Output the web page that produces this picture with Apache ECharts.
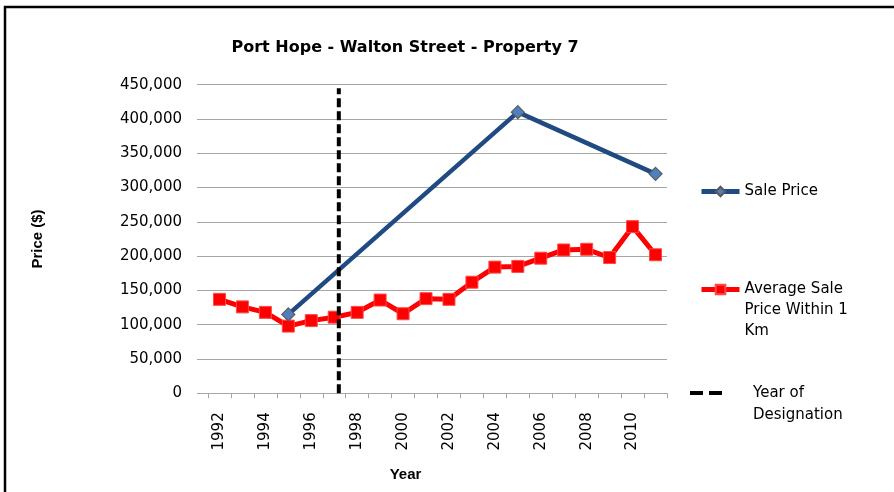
<!DOCTYPE html>
<html>
<head>
<meta charset="utf-8">
<script src="https://cdn.jsdelivr.net/npm/echarts@6/dist/echarts.min.js"></script>
<style>
  html, body { margin: 0; padding: 0; background: #fff; }
  #chart { width: 894px; height: 492px; }
</style>
</head>
<body>
<div id="chart"></div>
<script>
// ---- Data ----
const years = ['1992','1993','1994','1995','1996','1997','1998','1999','2000','2001',
               '2002','2003','2004','2005','2006','2007','2008','2009','2010','2011'];
const salePrice = [null, null, null, 115000, null, null, null, null, null, null,
                   null, null, null, 410000, null, null, null, null, null, 320000];
const avgSalePrice = [137000, 126000, 118000, 98000, 106000, 111000, 118000, 136000, 116000, 138000,
                      137000, 162000, 184000, 185000, 197000, 209000, 210000, 198000, 243000, 202000];
const designationYear = 1997.2;
const designationTop = 445000;
const yTicks = { min: 0, max: 450000, interval: 50000 };

const chart = echarts.init(document.getElementById('chart'), null, { renderer: 'canvas' });

const baseFont = 'DejaVu Sans';
const labelFont = 'Liberation Sans';

const option = {
  animation: false,
  backgroundColor: '#ffffff',
  title: {
    text: 'Port Hope - Walton Street - Property 7',
    left: 400,
    top: 35,
    textAlign: 'center',
    textStyle: { fontFamily: baseFont, fontWeight: 'bold', fontSize: 16, color: '#000' }
  },
  grid: { left: 208, right: 227, top: 84.7, bottom: 98.7, containLabel: false },
  legend: [
    {
      data: ['Sale Price'],
      left: 699, top: 184, padding: 0,
      itemWidth: 38, itemHeight: 12,
      lineStyle: { width: 5 },
      textStyle: { fontFamily: baseFont, fontSize: 15, color: '#000' }
    },
    {
      data: ['Average Sale Price Within 1 Km'],
      left: 699, top: 237, padding: 0,
      itemWidth: 38, itemHeight: 12,
      lineStyle: { width: 5 },
      formatter: () => '\n\nAverage Sale\nPrice Within 1\nKm',
      textStyle: { fontFamily: baseFont, fontSize: 15, color: '#000', lineHeight: 21 }
    },
    {
      data: [{ name: 'Year of Designation', icon: 'path://M0,0h13v4h-13z M19,0h13v4h-13z' }],
      left: 690, top: 360, padding: 0,
      itemWidth: 32, itemHeight: 4,
      formatter: () => '\nYear of\nDesignation',
      textStyle: { fontFamily: baseFont, fontSize: 15, color: '#000', lineHeight: 22, padding: [0, 0, 0, 26] }
    }
  ],
  xAxis: [
    {
      type: 'category',
      data: years,
      boundaryGap: true,
      name: 'Year',
      nameLocation: 'middle',
      nameGap: 74,
      nameTextStyle: { fontFamily: labelFont, fontWeight: 'bold', fontSize: 15, color: '#000', padding: [0, 64, 0, 0] },
      axisLine: { lineStyle: { color: '#a6a6a6', width: 1 } },
      axisTick: { show: true, interval: 0, length: 5, alignWithLabel: false, lineStyle: { color: '#a6a6a6' } },
      axisLabel: { interval: 1, rotate: 90, margin: 19, fontFamily: baseFont, fontSize: 15, color: '#000' },
      splitLine: { show: false }
    },
    {
      type: 'value',
      min: 1991.5, max: 2011.5,
      show: false,
      splitLine: { show: false }
    }
  ],
  yAxis: {
    type: 'value',
    min: yTicks.min, max: yTicks.max, interval: yTicks.interval,
    name: 'Price ($)',
    nameLocation: 'middle',
    nameRotate: 90,
    nameGap: 163,
    nameTextStyle: { fontFamily: labelFont, fontWeight: 'bold', fontSize: 15, color: '#000' },
    axisLine: { show: false },
    axisTick: { show: true, length: 11, lineStyle: { color: '#a6a6a6' } },
    axisLabel: {
      margin: 26,
      fontFamily: baseFont, fontSize: 15, color: '#000',
      formatter: v => v.toLocaleString('en-US')
    },
    splitLine: { show: true, lineStyle: { color: '#a6a6a6', width: 1 } }
  },
  series: [
    {
      name: 'Sale Price',
      type: 'line',
      xAxisIndex: 0,
      data: salePrice,
      connectNulls: true,
      symbol: 'diamond',
      symbolSize: 13,
      lineStyle: { color: '#1f4a82', width: 4.5 },
      itemStyle: { color: '#4f7fbf', borderColor: '#5a5a5a', borderWidth: 1.2 },
      z: 4
    },
    {
      name: 'Average Sale Price Within 1 Km',
      type: 'line',
      xAxisIndex: 0,
      data: avgSalePrice,
      symbol: 'rect',
      symbolSize: 12,
      lineStyle: { color: '#ff0000', width: 5 },
      itemStyle: { color: '#ff0000', borderColor: '#ff4a4a', borderWidth: 1 },
      z: 3
    },
    {
      name: 'Year of Designation',
      type: 'line',
      xAxisIndex: 1,
      data: [[designationYear, 0], [designationYear, designationTop]],
      symbol: 'none',
      lineStyle: { color: '#000', width: 4, type: [9, 4] },
      itemStyle: { color: '#000' },
      z: 5
    }
  ],
  graphic: [
    {
      type: 'rect',
      shape: { x: 5, y: 7, width: 1000, height: 1000 },
      style: { fill: 'none', stroke: '#000', lineWidth: 2.5 },
      silent: true
    }
  ]
};

chart.setOption(option);
</script>
</body>
</html>
